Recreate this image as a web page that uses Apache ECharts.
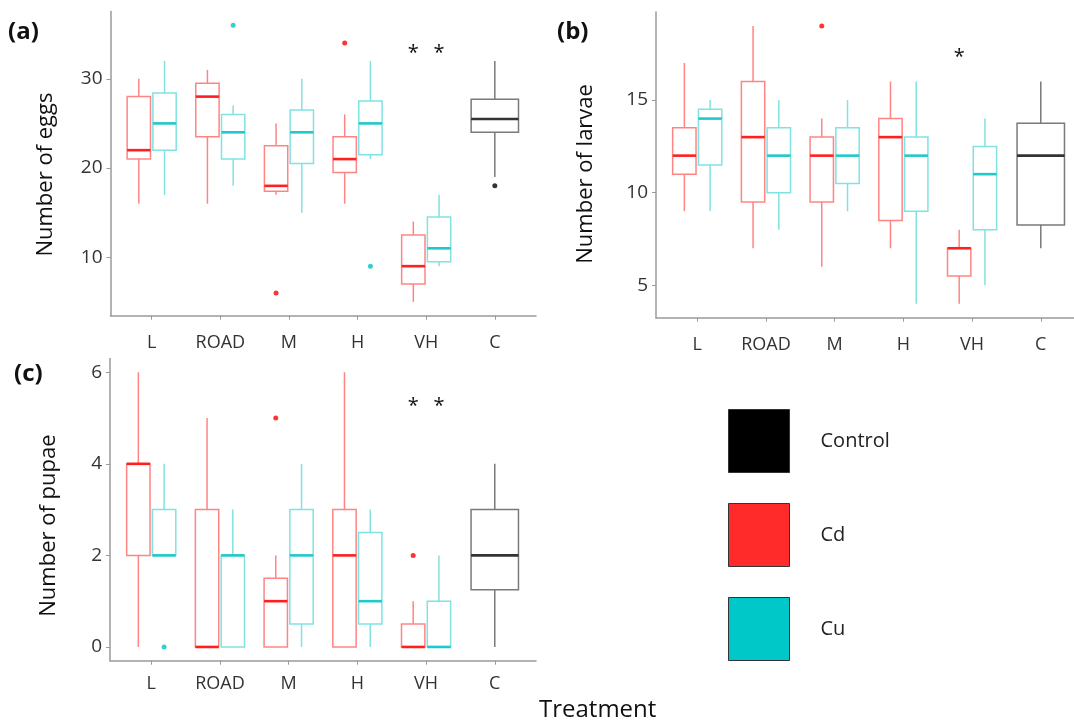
<!DOCTYPE html>
<html><head><meta charset="utf-8">
<script src="https://cdn.jsdelivr.net/npm/echarts@6.0.0/dist/echarts.min.js"></script>
<style>html,body{margin:0;padding:0;background:#fff}#c{width:1074px;height:724px}</style>
</head><body><div id="c"></div>
<script>
// ---------- DATA ----------
const categories = ['L', 'ROAD', 'M', 'H', 'VH', 'C'];
// each entry: [lower whisker, Q1, median, Q3, upper whisker] for L, ROAD, M, H, VH
const eggsCd = [[16, 21, 22, 28, 30], [16, 23.5, 28, 29.5, 31], [17, 17.4, 18, 22.5, 25], [16, 19.5, 21, 23.5, 26], [5, 7, 9, 12.5, 14]];
const eggsCu = [[17, 22, 25, 28.4, 32], [18, 21, 24, 26, 27], [15, 20.5, 24, 26.5, 30], [21, 21.5, 25, 27.5, 32], [9, 9.5, 11, 14.5, 17]];
const eggsControl = [19, 24, 25.5, 27.7, 32];
const eggsCdOut = [['M', 6], ['H', 34]];
const eggsCuOut = [['ROAD', 36], ['H', 9]];
const eggsControlOut = [['C', 18]];
const eggsStars = [['VH', 'Cd', 33.3], ['VH', 'Cu', 33.3]];

const larvaeCd = [[9, 11, 12, 13.5, 17], [7, 9.5, 13, 16, 19], [6, 9.5, 12, 13, 14], [7, 8.5, 13, 14, 16], [4, 5.5, 7, 7, 8]];
const larvaeCu = [[9, 11.5, 14, 14.5, 15], [8, 10, 12, 13.5, 15], [9, 10.5, 12, 13.5, 15], [4, 9, 12, 13, 16], [5, 8, 11, 12.5, 14]];
const larvaeControl = [7, 8.25, 12, 13.75, 16];
const larvaeCdOut = [['M', 19]];
const larvaeCuOut = [];
const larvaeControlOut = [];
const larvaeStars = [['VH', 'Cd', 17.5]];

const pupaeCd = [[0, 2, 4, 4, 6], [0, 0, 0, 3, 5], [0, 0, 1, 1.5, 2], [0, 0, 2, 3, 6], [0, 0, 0, 0.5, 1]];
const pupaeCu = [[2, 2, 2, 3, 4], [0, 0, 2, 2, 3], [0, 0.5, 2, 3, 4], [0, 0.5, 1, 2.5, 3], [0, 0, 0, 1, 2]];
const pupaeControl = [0, 1.25, 2, 3, 4];
const pupaeCdOut = [['M', 5], ['VH', 2]];
const pupaeCuOut = [['L', 0]];
const pupaeControlOut = [];
const pupaeStars = [['VH', 'Cd', 5.35], ['VH', 'Cu', 5.35]];

const eggsTicks = [10, 20, 30];
const larvaeTicks = [5, 10, 15];
const pupaeTicks = [0, 2, 4, 6];

// ---------- STYLE ----------
const FONT = 'Open Sans';
const COL = {
  Cd: { line: '#ff8585', med: '#ff1f1f', pt: '#ff0000', legend: '#ff2a2a' },
  Cu: { line: '#80e2e2', med: '#1fc9c9', pt: '#00c4c4', legend: '#00c8c8' },
  Control: { line: '#7a7a7a', med: '#333333', pt: '#000000', legend: '#000000' }
};
const OFFSET = { Cd: -0.1875, Cu: 0.1875, Control: 0 };
const HALFW = { Cd: 0.17, Cu: 0.17, Control: 0.345 };

function catX(cat, grp) { return categories.indexOf(cat) + 1 + OFFSET[grp]; }

function boxSeries(name, idx, stats) {
  let data;
  if (name === 'Control') data = [[6].concat(stats)];
  else data = stats.map((s, i) => [i + 1 + OFFSET[name]].concat(s));
  const c = COL[name], hwU = HALFW[name];
  return {
    type: 'custom', name: name, xAxisIndex: idx, yAxisIndex: idx,
    itemStyle: { color: c.legend },
    encode: { x: 0, y: [1, 2, 3, 4, 5] },
    data: data,
    renderItem: function (params, api) {
      const x = api.value(0);
      const lo = api.coord([x, api.value(1)]);
      const q1 = api.coord([x, api.value(2)]);
      const md = api.coord([x, api.value(3)]);
      const q3 = api.coord([x, api.value(4)]);
      const hi = api.coord([x, api.value(5)]);
      const hw = api.size([hwU, 0])[0];
      const px = lo[0];
      const ls = { stroke: c.line, lineWidth: 1.5, fill: null };
      return {
        type: 'group', children: [
          { type: 'line', shape: { x1: px, y1: hi[1], x2: px, y2: q3[1] }, style: ls },
          { type: 'line', shape: { x1: px, y1: q1[1], x2: px, y2: lo[1] }, style: ls },
          { type: 'rect', shape: { x: px - hw, y: q3[1], width: 2 * hw, height: q1[1] - q3[1] }, style: { stroke: c.line, lineWidth: 1.5, fill: 'rgba(0,0,0,0)' } },
          { type: 'line', shape: { x1: px - hw, y1: md[1], x2: px + hw, y2: md[1] }, style: { stroke: c.med, lineWidth: 2.6 } }
        ]
      };
    }
  };
}
function outSeries(name, idx, pts) {
  return {
    type: 'scatter', name: name, xAxisIndex: idx, yAxisIndex: idx,
    symbolSize: 5, itemStyle: { color: COL[name].pt },
    data: pts.map(p => [catX(p[0], name), p[1]]), z: 5
  };
}
function starSeries(idx, stars) {
  return {
    type: 'custom', name: 'stars', xAxisIndex: idx, yAxisIndex: idx,
    data: stars.map(s => [catX(s[0], s[1]), s[2]]),
    renderItem: function (params, api) {
      const p = api.coord([api.value(0), api.value(1)]);
      return { type: 'text', x: p[0], y: p[1] + 4, style: { text: '*', font: '20px "' + FONT + '"', fill: '#111', align: 'center', verticalAlign: 'middle' } };
    }
  };
}
function range(arrs, outs) {
  let vals = [];
  arrs.forEach(a => { (Array.isArray(a[0]) ? a : [a]).forEach(r => vals = vals.concat(r)); });
  outs.forEach(o => o.forEach(p => vals.push(p[1])));
  const mn = Math.min.apply(null, vals), mx = Math.max.apply(null, vals);
  const e = (mx - mn) * 0.05;
  return [mn - e, mx + e];
}
const rEggs = range([eggsCd, eggsCu, eggsControl], [eggsCdOut, eggsCuOut, eggsControlOut]);
const rLarvae = range([larvaeCd, larvaeCu, larvaeControl], [larvaeCdOut, larvaeCuOut, larvaeControlOut]);
const rPupae = range([pupaeCd, pupaeCu, pupaeControl], [pupaeCdOut, pupaeCuOut, pupaeControlOut]);

const axisLineStyle = { color: '#9a9a9a', width: 1.5 };
function xAx(idx, margin) {
  return {
    type: 'value', gridIndex: idx, min: 0.4, max: 6.6,
    splitLine: { show: false },
    axisLine: { show: true, onZero: false, lineStyle: axisLineStyle },
    axisTick: { show: true, length: 4, lineStyle: { color: '#9a9a9a' }, customValues: [1, 2, 3, 4, 5, 6] },
    axisLabel: { customValues: [1, 2, 3, 4, 5, 6], formatter: v => categories[Math.round(v) - 1], fontFamily: FONT, fontSize: 18, color: '#333', margin: margin }
  };
}
function yAx(idx, r, ticks, name, gap, shift) {
  return {
    type: 'value', gridIndex: idx, min: r[0], max: r[1],
    name: name, nameLocation: 'middle', nameGap: gap, nameRotate: 90,
    nameTextStyle: { fontFamily: FONT, fontSize: 22, color: '#111', padding: [0, shift, 0, 0] },
    splitLine: { show: false },
    axisLine: { show: true, onZero: false, lineStyle: axisLineStyle },
    axisTick: { show: true, length: 4, lineStyle: { color: '#9a9a9a' }, customValues: ticks },
    axisLabel: { customValues: ticks, fontFamily: FONT, fontSize: 19, color: '#333', margin: 8 }
  };
}

const series = [
  boxSeries('Cd', 0, eggsCd), boxSeries('Cu', 0, eggsCu), boxSeries('Control', 0, eggsControl),
  outSeries('Cd', 0, eggsCdOut), outSeries('Cu', 0, eggsCuOut), outSeries('Control', 0, eggsControlOut),
  starSeries(0, eggsStars),
  boxSeries('Cd', 1, larvaeCd), boxSeries('Cu', 1, larvaeCu), boxSeries('Control', 1, larvaeControl),
  outSeries('Cd', 1, larvaeCdOut), outSeries('Cu', 1, larvaeCuOut), outSeries('Control', 1, larvaeControlOut),
  starSeries(1, larvaeStars),
  boxSeries('Cd', 2, pupaeCd), boxSeries('Cu', 2, pupaeCu), boxSeries('Control', 2, pupaeControl),
  outSeries('Cd', 2, pupaeCdOut), outSeries('Cu', 2, pupaeCuOut), outSeries('Control', 2, pupaeControlOut),
  starSeries(2, pupaeStars)
];

const chart = echarts.init(document.getElementById('c'), null, { renderer: 'canvas' });
chart.setOption({
  animation: false,
  backgroundColor: '#fff',
  grid: [
    { left: 110.5, top: 11.4, width: 425.5, height: 304.3, containLabel: false, outerBoundsMode: 'none' },
    { left: 656, top: 12.1, width: 426, height: 305.6, containLabel: false, outerBoundsMode: 'none' },
    { left: 110, top: 358.5, width: 426, height: 302.2, containLabel: false, outerBoundsMode: 'none' }
  ],
  xAxis: [xAx(0, 18), xAx(1, 18), xAx(2, 14)],
  yAxis: [
    yAx(0, rEggs, eggsTicks, 'Number of eggs', 54, 22),
    yAx(1, rLarvae, larvaeTicks, 'Number of larvae', 59, 18),
    yAx(2, rPupae, pupaeTicks, 'Number of pupae', 50, 32)
  ],
  legend: {
    orient: 'vertical', left: 728, top: 409, padding: 0,
    itemWidth: 61, itemHeight: 63, itemGap: 30, icon: 'rect',
    selectedMode: false,
    textStyle: { fontFamily: FONT, fontSize: 20, color: '#222', padding: [0, 0, 0, 26] },
    data: [
      { name: 'Control', itemStyle: { color: COL.Control.legend, borderColor: '#333', borderWidth: 1 } },
      { name: 'Cd', itemStyle: { color: COL.Cd.legend, borderColor: '#333', borderWidth: 1 } },
      { name: 'Cu', itemStyle: { color: COL.Cu.legend, borderColor: '#333', borderWidth: 1 } }
    ]
  },
  graphic: [
    { type: 'text', left: 8, top: 20, style: { text: '(a)', font: 'bold 24px "' + FONT + '"', fill: '#111' } },
    { type: 'text', left: 557, top: 20, style: { text: '(b)', font: 'bold 24px "' + FONT + '"', fill: '#111' } },
    { type: 'text', left: 14, top: 362, style: { text: '(c)', font: 'bold 24px "' + FONT + '"', fill: '#111' } },
    { type: 'text', left: 539, top: 698, style: { text: 'Treatment', font: '24px "' + FONT + '"', fill: '#111' } }
  ],
  series: series
});
</script></body></html>
